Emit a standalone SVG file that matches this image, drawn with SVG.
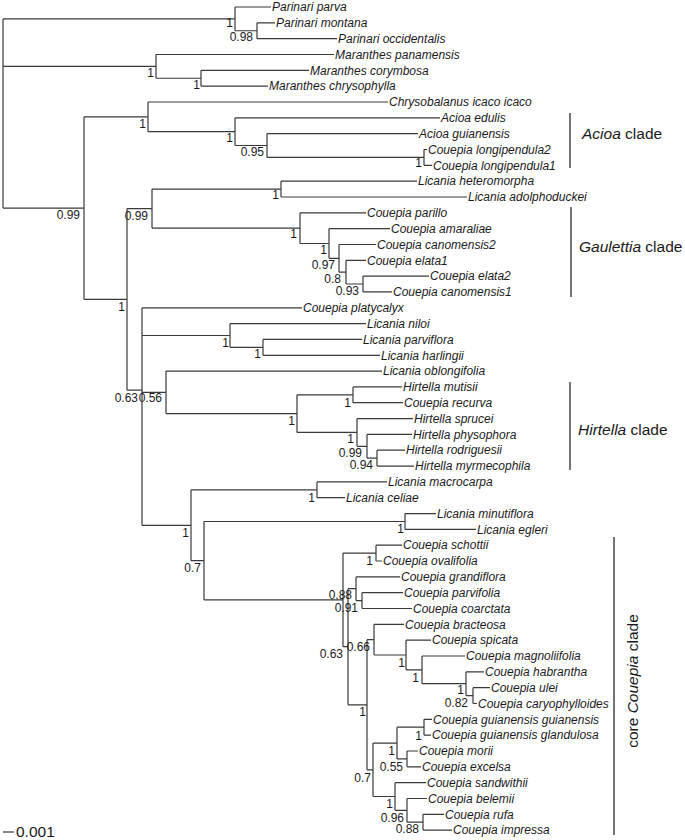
<svg xmlns="http://www.w3.org/2000/svg" width="685" height="840" viewBox="0 0 685 840">
<style>
.e{fill:none;stroke:#3a3a3a;stroke-width:1.2}
.t{font-family:"Liberation Sans",Arial,sans-serif;font-size:12px;font-style:italic;fill:#1a1a1a}
.s{font-family:"Liberation Sans",Arial,sans-serif;font-size:12px;fill:#1a1a1a;text-anchor:end}
.c{font-family:"Liberation Sans",Arial,sans-serif;font-size:15.5px;fill:#1a1a1a}
.b{fill:none;stroke:#3a3a3a;stroke-width:1.4}
</style>
<rect width="685" height="840" fill="#fff"/>
<g id="connectors">
<path class="e" d="M3 18.9V208.1M3 18.9H235M3 66.4H156M3 208.1H84"/>
<path class="e" d="M235 7V30.75M235 7H271M235 30.75H257"/>
<path class="e" d="M257 22.8V38.7M257 22.8H275M257 38.7H337"/>
<path class="e" d="M156 54.5V78.25M156 54.5H334M156 78.25H201"/>
<path class="e" d="M201 70.3V86.2M201 70.3H309M201 86.2H268"/>
<path class="e" d="M84 116.8V299.4M84 116.8H148M84 299.4H127"/>
<path class="e" d="M148 102V131.7M148 102H388M148 131.7H235"/>
<path class="e" d="M235 117.8V145.5M235 117.8H440M235 145.5H267"/>
<path class="e" d="M267 133.6V157.4M267 133.6H418M267 157.4H424"/>
<path class="e" d="M424 149.5V165.3M424 149.5H427M424 165.3H432"/>
<path class="e" d="M127 208.6V390.2M127 208.6H152M127 390.2H142"/>
<path class="e" d="M152 189.05V228.1M152 189.05H281M152 228.1H300"/>
<path class="e" d="M281 181.1V197M281 181.1H417M281 197H467"/>
<path class="e" d="M300 212.8V243.5M300 212.8H366M300 243.5H329"/>
<path class="e" d="M329 228.6V258.3M329 228.6H390M329 258.3H339"/>
<path class="e" d="M339 244.5V272.2M339 244.5H376M339 272.2H346"/>
<path class="e" d="M346 260.3V284M346 260.3H366M346 284H363"/>
<path class="e" d="M363 276.1V291.9M363 276.1H429M363 291.9H392"/>
<path class="e" d="M142 307.8V525.3M142 307.8H302M142 335.5H230M142 392.3H166M142 525.3H191"/>
<path class="e" d="M230 323.6V347.3M230 323.6H366M230 347.3H263"/>
<path class="e" d="M263 339.4V355.3M263 339.4H362M263 355.3H380"/>
<path class="e" d="M166 371.1V413.6M166 371.1H382M166 413.6H297"/>
<path class="e" d="M297 394.8V432.4M297 394.8H353M297 432.4H357"/>
<path class="e" d="M353 386.9V402.7M353 386.9H402M353 402.7H403"/>
<path class="e" d="M357 418.6V446.3M357 418.6H413M357 446.3H367"/>
<path class="e" d="M367 434.4V458.1M367 434.4H412M367 458.1H377"/>
<path class="e" d="M377 450.2V466.1M377 450.2H405M377 466.1H414"/>
<path class="e" d="M191 489.8V560.7M191 489.8H317M191 560.7H204"/>
<path class="e" d="M317 481.9V497.7M317 481.9H387M317 497.7H345"/>
<path class="e" d="M204 521.5V599.9M204 521.5H405M204 599.9H343"/>
<path class="e" d="M405 513.6V529.4M405 513.6H436M405 529.4H476"/>
<path class="e" d="M343 553.1V646.7M343 553.1H376M343 646.7H348"/>
<path class="e" d="M376 545.2V561M376 545.2H402M376 561H382"/>
<path class="e" d="M348 588.7V704.8M348 588.7H356M348 704.8H367"/>
<path class="e" d="M356 576.9V600.6M356 576.9H400M356 600.6H362"/>
<path class="e" d="M362 592.7V608.5M362 592.7H403M362 608.5H412"/>
<path class="e" d="M367 639.7V769.8M367 639.7H374M367 769.8H373"/>
<path class="e" d="M374 624.4V655M374 624.4H404M374 655H406"/>
<path class="e" d="M406 640.2V669.8M406 640.2H431M406 669.8H422"/>
<path class="e" d="M422 656V683.7M422 656H465M422 683.7H466"/>
<path class="e" d="M466 671.8V695.6M466 671.8H484M466 695.6H473"/>
<path class="e" d="M473 687.7V703.5M473 687.7H490M473 703.5H477"/>
<path class="e" d="M373 743.1V796.5M373 743.1H397M373 796.5H395"/>
<path class="e" d="M397 727.2V758.9M397 727.2H424M397 758.9H407"/>
<path class="e" d="M424 719.3V735.2M424 719.3H432M424 735.2H431"/>
<path class="e" d="M407 751V766.8M407 751H418M407 766.8H421"/>
<path class="e" d="M395 782.7V810.3M395 782.7H426M395 810.3H407"/>
<path class="e" d="M407 798.5V822.2M407 798.5H427M407 822.2H423"/>
<path class="e" d="M423 814.3V830.1M423 814.3H444M423 830.1H452"/>
</g>
<g id="tips">
<g id="tip01"><text class="t" x="272" y="11.2">Parinari parva</text></g>
<g id="tip02"><text class="t" x="276" y="27">Parinari montana</text></g>
<g id="tip03"><text class="t" x="338" y="42.9">Parinari occidentalis</text></g>
<g id="tip04"><text class="t" x="335" y="58.7">Maranthes panamensis</text></g>
<g id="tip05"><text class="t" x="310" y="74.5">Maranthes corymbosa</text></g>
<g id="tip06"><text class="t" x="269" y="90.4">Maranthes chrysophylla</text></g>
<g id="tip07"><text class="t" x="389" y="106.2">Chrysobalanus icaco icaco</text></g>
<g id="tip08"><text class="t" x="441" y="122">Acioa edulis</text></g>
<g id="tip09"><text class="t" x="419" y="137.8">Acioa guianensis</text></g>
<g id="tip10"><text class="t" x="428" y="153.7">Couepia longipendula2</text></g>
<g id="tip11"><text class="t" x="433" y="169.5">Couepia longipendula1</text></g>
<g id="tip12"><text class="t" x="418" y="185.3">Licania heteromorpha</text></g>
<g id="tip13"><text class="t" x="468" y="201.2">Licania adolphoduckei</text></g>
<g id="tip14"><text class="t" x="367" y="217">Couepia parillo</text></g>
<g id="tip15"><text class="t" x="391" y="232.8">Couepia amaraliae</text></g>
<g id="tip16"><text class="t" x="377" y="248.7">Couepia canomensis2</text></g>
<g id="tip17"><text class="t" x="367" y="264.5">Couepia elata1</text></g>
<g id="tip18"><text class="t" x="430" y="280.3">Couepia elata2</text></g>
<g id="tip19"><text class="t" x="393" y="296.1">Couepia canomensis1</text></g>
<g id="tip20"><text class="t" x="303" y="312">Couepia platycalyx</text></g>
<g id="tip21"><text class="t" x="367" y="327.8">Licania niloi</text></g>
<g id="tip22"><text class="t" x="363" y="343.6">Licania parviflora</text></g>
<g id="tip23"><text class="t" x="381" y="359.5">Licania harlingii</text></g>
<g id="tip24"><text class="t" x="383" y="375.3">Licania oblongifolia</text></g>
<g id="tip25"><text class="t" x="403" y="391.1">Hirtella mutisii</text></g>
<g id="tip26"><text class="t" x="404" y="406.9">Couepia recurva</text></g>
<g id="tip27"><text class="t" x="414" y="422.8">Hirtella sprucei</text></g>
<g id="tip28"><text class="t" x="413" y="438.6">Hirtella physophora</text></g>
<g id="tip29"><text class="t" x="406" y="454.4">Hirtella rodriguesii</text></g>
<g id="tip30"><text class="t" x="415" y="470.3">Hirtella myrmecophila</text></g>
<g id="tip31"><text class="t" x="388" y="486.1">Licania macrocarpa</text></g>
<g id="tip32"><text class="t" x="346" y="501.9">Licania celiae</text></g>
<g id="tip33"><text class="t" x="437" y="517.8">Licania minutiflora</text></g>
<g id="tip34"><text class="t" x="477" y="533.6">Licania egleri</text></g>
<g id="tip35"><text class="t" x="403" y="549.4">Couepia schottii</text></g>
<g id="tip36"><text class="t" x="383" y="565.2">Couepia ovalifolia</text></g>
<g id="tip37"><text class="t" x="401" y="581.1">Couepia grandiflora</text></g>
<g id="tip38"><text class="t" x="404" y="596.9">Couepia parvifolia</text></g>
<g id="tip39"><text class="t" x="413" y="612.7">Couepia coarctata</text></g>
<g id="tip40"><text class="t" x="405" y="628.6">Couepia bracteosa</text></g>
<g id="tip41"><text class="t" x="432" y="644.4">Couepia spicata</text></g>
<g id="tip42"><text class="t" x="466" y="660.2">Couepia magnoliifolia</text></g>
<g id="tip43"><text class="t" x="485" y="676">Couepia habrantha</text></g>
<g id="tip44"><text class="t" x="491" y="691.9">Couepia ulei</text></g>
<g id="tip45"><text class="t" x="478" y="707.7">Couepia caryophylloides</text></g>
<g id="tip46"><text class="t" x="433" y="723.5">Couepia guianensis guianensis</text></g>
<g id="tip47"><text class="t" x="432" y="739.4">Couepia guianensis glandulosa</text></g>
<g id="tip48"><text class="t" x="419" y="755.2">Couepia morii</text></g>
<g id="tip49"><text class="t" x="422" y="771">Couepia excelsa</text></g>
<g id="tip50"><text class="t" x="427" y="786.9">Couepia sandwithii</text></g>
<g id="tip51"><text class="t" x="428" y="802.7">Couepia belemii</text></g>
<g id="tip52"><text class="t" x="445" y="818.5">Couepia rufa</text></g>
<g id="tip53"><text class="t" x="453" y="834.3">Couepia impressa</text></g>
</g>
<g id="support">
<g id="n-parinari"><text class="s" x="233" y="27">1</text></g>
<g id="n-pm"><text class="s" x="253" y="41">0.98</text></g>
<g id="n-maranthes"><text class="s" x="154" y="77">1</text></g>
<g id="n-mc"><text class="s" x="200" y="89">1</text></g>
<g id="n-148"><text class="s" x="146" y="128">1</text></g>
<g id="n-acioa"><text class="s" x="233" y="142">1</text></g>
<g id="n-267"><text class="s" x="264" y="156">0.95</text></g>
<g id="n-longip"><text class="s" x="422" y="167">1</text></g>
<g id="n-84"><text class="s" x="80" y="219">0.99</text></g>
<g id="n-152"><text class="s" x="148" y="220">0.99</text></g>
<g id="n-281"><text class="s" x="279" y="199">1</text></g>
<g id="n-gaul"><text class="s" x="297" y="238">1</text></g>
<g id="n-329"><text class="s" x="327" y="254">1</text></g>
<g id="n-339"><text class="s" x="335" y="269">0.97</text></g>
<g id="n-346"><text class="s" x="341" y="283">0.8</text></g>
<g id="n-363"><text class="s" x="359" y="295">0.93</text></g>
<g id="n-127"><text class="s" x="125" y="311">1</text></g>
<g id="n-230"><text class="s" x="229" y="347">1</text></g>
<g id="n-263"><text class="s" x="261" y="358">1</text></g>
<g id="n-142"><text class="s" x="138" y="402">0.63</text></g>
<g id="n-166"><text class="s" x="162" y="402">0.56</text></g>
<g id="n-hirt"><text class="s" x="295" y="425">1</text></g>
<g id="n-353"><text class="s" x="351" y="407">1</text></g>
<g id="n-357"><text class="s" x="354" y="443">1</text></g>
<g id="n-367h"><text class="s" x="362" y="457">0.99</text></g>
<g id="n-377"><text class="s" x="373" y="469">0.94</text></g>
<g id="n-317"><text class="s" x="315" y="502">1</text></g>
<g id="n-191"><text class="s" x="189" y="537">1</text></g>
<g id="n-405"><text class="s" x="404" y="533">1</text></g>
<g id="n-204"><text class="s" x="201" y="572">0.7</text></g>
<g id="n-376"><text class="s" x="373" y="565">1</text></g>
<g id="n-356"><text class="s" x="352" y="599">0.88</text></g>
<g id="n-362"><text class="s" x="358" y="612">0.91</text></g>
<g id="n-B"><text class="s" x="343" y="658">0.63</text></g>
<g id="n-374"><text class="s" x="370" y="651">0.66</text></g>
<g id="n-406"><text class="s" x="405" y="667">1</text></g>
<g id="n-422"><text class="s" x="419" y="682">1</text></g>
<g id="n-466"><text class="s" x="464" y="694">1</text></g>
<g id="n-473"><text class="s" x="468" y="707">0.82</text></g>
<g id="n-D"><text class="s" x="366" y="716">1</text></g>
<g id="n-424b"><text class="s" x="422" y="740">1</text></g>
<g id="n-397"><text class="s" x="395" y="755">1</text></g>
<g id="n-407m"><text class="s" x="403" y="771">0.55</text></g>
<g id="n-E"><text class="s" x="371" y="782">0.7</text></g>
<g id="n-395"><text class="s" x="393" y="808">1</text></g>
<g id="n-407b"><text class="s" x="404" y="822">0.96</text></g>
<g id="n-423"><text class="s" x="419" y="833">0.88</text></g>
</g>
<g id="clades">
<g id="clade-acioa"><path class="b" d="M570 113V168"/><text class="c" x="582" y="139"><tspan font-style="italic">Acioa</tspan> clade</text></g>
<g id="clade-gaulettia"><path class="b" d="M571 207V297"/><text class="c" x="579" y="252"><tspan font-style="italic">Gaulettia</tspan> clade</text></g>
<g id="clade-hirtella"><path class="b" d="M570 382V470"/><text class="c" x="578" y="435"><tspan font-style="italic">Hirtella</tspan> clade</text></g>
<g id="clade-couepia"><path class="b" d="M614 537V835"/><text class="c" transform="translate(638 681) rotate(-90)" text-anchor="middle">core <tspan font-style="italic">Couepia</tspan> clade</text></g>
</g>
<g id="scale"><path class="e" d="M3 832H14"/><text class="c" x="16" y="837" font-size="16px">0.001</text></g>
</svg>
